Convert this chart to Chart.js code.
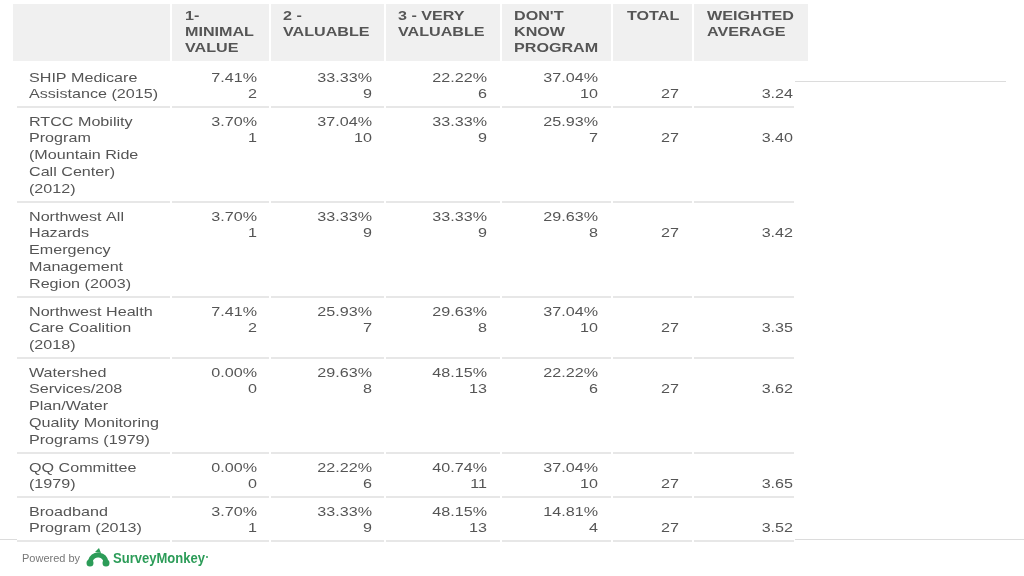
<!DOCTYPE html>
<html>
<head>
<meta charset="utf-8">
<script src="https://cdn.jsdelivr.net/npm/chart.js@4.4.1/dist/chart.umd.min.js"></script>
<style>
  html, body { margin: 0; padding: 0; background: #fff; }
  #wrap { width: 1024px; height: 576px; }
</style>
</head>
<body>
<div id="wrap"><canvas id="tabela"></canvas></div>
<script>
// Dados da tabela
const headers = [
    ['1-', 'MINIMAL', 'VALUE'],
    ['2 -', 'VALUABLE'],
    ['3 - VERY', 'VALUABLE'],
    ["DON'T", 'KNOW', 'PROGRAM'],
    ['TOTAL'],
    ['WEIGHTED', 'AVERAGE']
];

const programs = [
    ['SHIP Medicare', 'Assistance (2015)'],
    ['RTCC Mobility', 'Program', '(Mountain Ride', 'Call Center)', '(2012)'],
    ['Northwest All', 'Hazards', 'Emergency', 'Management', 'Region (2003)'],
    ['Northwest Health', 'Care Coalition', '(2018)'],
    ['Watershed', 'Services/208', 'Plan/Water', 'Quality Monitoring', 'Programs (1979)'],
    ['QQ Committee', '(1979)'],
    ['Broadband', 'Program (2013)']
];

const minimalPct = ['7.41%', '3.70%', '3.70%', '7.41%', '0.00%', '0.00%', '3.70%'];
const minimalN = [2, 1, 1, 2, 0, 0, 1];
const valuablePct = ['33.33%', '37.04%', '33.33%', '25.93%', '29.63%', '22.22%', '33.33%'];
const valuableN = [9, 10, 9, 7, 8, 6, 9];
const veryPct = ['22.22%', '33.33%', '33.33%', '29.63%', '48.15%', '40.74%', '48.15%'];
const veryN = [6, 9, 9, 8, 13, 11, 13];
const dontKnowPct = ['37.04%', '25.93%', '29.63%', '37.04%', '22.22%', '37.04%', '14.81%'];
const dontKnowN = [10, 7, 8, 10, 6, 10, 4];
const totals = [27, 27, 27, 27, 27, 27, 27];
const weightedAvg = ['3.24', '3.40', '3.42', '3.35', '3.62', '3.65', '3.52'];

// Layout (pixels in scale units)
const colSep = [171, 270, 385, 501, 612, 693];
const headLeft = [185, 283, 398, 514, 627, 707];
const cellRight = [257, 372, 487, 598, 679, 793];
const labelX = 29;
const tableTop = 63;
const lineH = 17;
const STRETCH = 1.24; // o print original está esticado na horizontal

const FONT = '"Liberation Sans", Arial, sans-serif';

const tablePlugin = {
    id: 'tabela',
    afterDraw(chart) {
        const ctx = chart.ctx;
        const sx = chart.scales.x;
        const sy = chart.scales.y;
        const X = v => sx.getPixelForValue(v);
        const Y = v => sy.getPixelForValue(v);

        function txt(s, x, y, align) {
            ctx.save();
            ctx.translate(X(x), Y(y));
            ctx.scale(STRETCH, 1);
            ctx.textAlign = align;
            ctx.fillText(s, 0, 0);
            ctx.restore();
        }

        ctx.save();
        ctx.textBaseline = 'middle';

        // cabeçalho
        ctx.fillStyle = '#f0f0f0';
        ctx.fillRect(X(13), Y(4), X(808) - X(13), Y(61) - Y(4));
        ctx.fillStyle = '#ffffff';
        colSep.forEach(c => ctx.fillRect(X(c) - 1, Y(4), 2, Y(61) - Y(4)));

        ctx.fillStyle = '#555555';
        ctx.font = 'bold 13px ' + FONT;
        headers.forEach((h, i) => {
            h.forEach((line, j) => txt(line, headLeft[i], 16.5 + j * 16, 'left'));
        });

        // linhas de fundo do slide
        ctx.strokeStyle = '#dcdcdc';
        ctx.lineWidth = 1;
        ctx.beginPath();
        ctx.moveTo(X(795), Y(81.5)); ctx.lineTo(X(1006), Y(81.5));
        ctx.moveTo(X(0), Y(539.5)); ctx.lineTo(X(17), Y(539.5));
        ctx.moveTo(X(795), Y(539.5)); ctx.lineTo(X(1024), Y(539.5));
        ctx.stroke();

        // corpo
        const cols = [
            [minimalPct, minimalN],
            [valuablePct, valuableN],
            [veryPct, veryN],
            [dontKnowPct, dontKnowN]
        ];
        let top = tableTop;
        ctx.font = '13px ' + FONT;
        programs.forEach((lbl, r) => {
            const n = Math.max(2, lbl.length);
            const y0 = top + 15;
            ctx.fillStyle = '#555555';
            lbl.forEach((line, j) => txt(line, labelX, y0 + j * 16.8, 'left'));
            cols.forEach((c, i) => {
                txt(c[0][r], cellRight[i], y0, 'right');
                txt(String(c[1][r]), cellRight[i], y0 + 16.8, 'right');
            });
            txt(String(totals[r]), cellRight[4], y0 + 16.8, 'right');
            txt(weightedAvg[r], cellRight[5], y0 + 16.8, 'right');

            top += n * lineH + 10;
            // separador
            ctx.strokeStyle = '#e0e0e0';
            ctx.lineWidth = 1.5;
            const edges = [17].concat(colSep, [795]);
            ctx.beginPath();
            for (let k = 0; k < edges.length - 1; k++) {
                ctx.moveTo(X(edges[k] + (k ? 1 : 0)), Y(top));
                ctx.lineTo(X(edges[k + 1] - 1), Y(top));
            }
            ctx.stroke();
        });

        // rodapé
        ctx.fillStyle = '#777777';
        ctx.font = '11px ' + FONT;
        ctx.textAlign = 'left';
        ctx.fillText('Powered by', X(22), Y(559));

        const green = '#2c9c58';
        ctx.fillStyle = green;
        ctx.strokeStyle = green;
        ctx.lineWidth = 5;
        ctx.beginPath();
        ctx.arc(X(98), Y(563), 8, Math.PI * 1.05, Math.PI * 1.95);
        ctx.stroke();
        ctx.beginPath();
        ctx.arc(X(90), Y(563), 3.5, 0, Math.PI * 2);
        ctx.arc(X(106), Y(563), 3.5, 0, Math.PI * 2);
        ctx.fill();
        ctx.beginPath();
        ctx.moveTo(X(95), Y(552)); ctx.lineTo(X(99), Y(548)); ctx.lineTo(X(101), Y(553));
        ctx.fill();

        ctx.font = 'bold 14px ' + FONT;
        ctx.save();
        ctx.translate(X(113), Y(559));
        ctx.scale(0.93, 1);
        ctx.fillText('SurveyMonkey', 0, 0);
        ctx.restore();
        ctx.beginPath();
        ctx.arc(X(207), Y(557), 1, 0, Math.PI * 2);
        ctx.fill();

        ctx.restore();
    }
};

window.onload = function() {
    const ctx = document.getElementById('tabela').getContext('2d');
    new Chart(ctx, {
        type: 'scatter',
        data: { datasets: [{ data: [] }] },
        options: {
            responsive: true,
            maintainAspectRatio: false,
            animation: false,
            layout: { padding: 0 },
            plugins: { legend: { display: false }, tooltip: { enabled: false } },
            scales: {
                x: { type: 'linear', min: 0, max: 1024, display: false },
                y: { type: 'linear', min: 0, max: 576, reverse: true, display: false }
            }
        },
        plugins: [tablePlugin]
    });
};
</script>
</body>
</html>
